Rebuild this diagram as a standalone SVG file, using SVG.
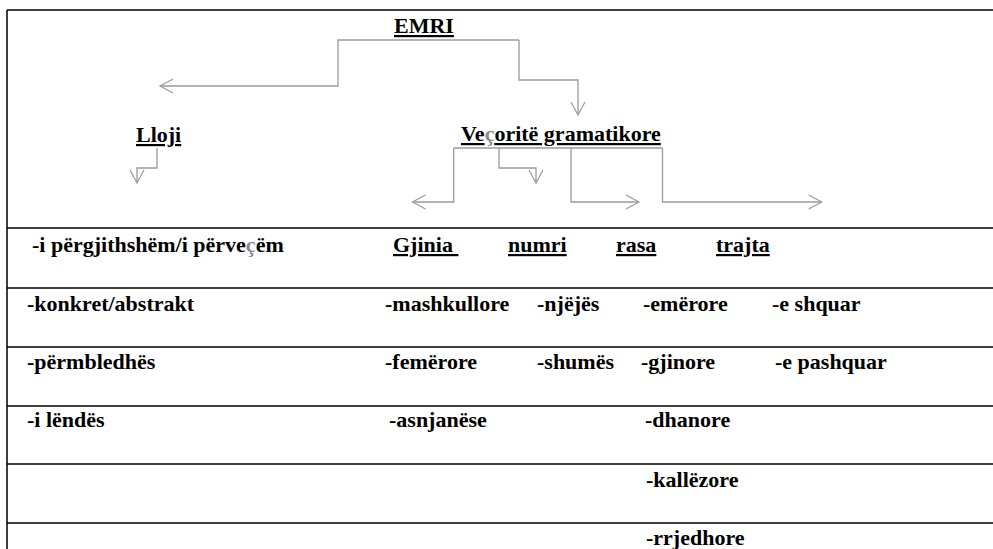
<svg xmlns="http://www.w3.org/2000/svg" width="993" height="549" viewBox="0 0 993 549">
<style>
text{font-family:'Liberation Serif','Times New Roman',serif;font-weight:bold;font-size:22px;fill:#000}
.u{text-decoration:underline}
.g{fill:#8a8a8a}
.rule{stroke:#000;stroke-width:1.5;fill:none}
.con{stroke:#9a9a9a;stroke-width:1.3;fill:none}
</style>
<defs>
<marker id="ah" viewBox="0 0 16 16" markerUnits="userSpaceOnUse" markerWidth="16" markerHeight="16" refX="14" refY="8" orient="auto">
<path d="M1,1 L14,8 L1,15" fill="none" stroke="#9a9a9a" stroke-width="1.2"/>
</marker>
</defs>
<rect width="993" height="549" fill="#fff"/>
<g id="frame">
<path class="rule" d="M7,10 H993 M7,10 V549" stroke-width="2"/>
<path class="rule" d="M7,228 H993 M7,288 H993 M7,347 H993 M7,406 H993 M7,464 H993 M7,523 H993"/>
</g>
<g id="connectors">
<path class="con" d="M519,40 H338 V86 H160" marker-end="url(#ah)"/>
<path class="con" d="M519,40 V80 H578 V115" marker-end="url(#ah)"/>
<path class="con" d="M157,148 V168 H137 V183" marker-end="url(#ah)"/>
<path class="con" d="M453.7,148 H662.5"/>
<path class="con" d="M453.7,148 V202 H412.5" marker-end="url(#ah)"/>
<path class="con" d="M499,148 V168 H536 V183" marker-end="url(#ah)"/>
<path class="con" d="M571,148 V202 H639" marker-end="url(#ah)"/>
<path class="con" d="M662.5,148 V202 H821.7" marker-end="url(#ah)"/>
</g>
<g id="emri"><text class="u" x="394" y="33">EMRI</text></g>
<g id="lloji"><text class="u" x="136" y="142">Lloji</text></g>
<g id="vecorite"><text class="u" x="461" y="141">Ve<tspan class="g u">ç</tspan>oritë gramatikore</text></g>
<g id="col-lloji">
<text x="32" y="252">-i përgjithshëm/i përve<tspan class="g">ç</tspan>ëm</text>
<text x="27" y="311">-konkret/abstrakt</text>
<text x="27" y="369">-përmbledhës</text>
<text x="27" y="427">-i lëndës</text>
</g>
<g id="col-gjinia">
<text class="u" x="393" y="252" xml:space="preserve">Gjinia </text>
<text x="385" y="311">-mashkullore</text>
<text x="385" y="369">-femërore</text>
<text x="389" y="427">-asnjanëse</text>
</g>
<g id="col-numri">
<text class="u" x="508" y="252">numri</text>
<text x="537" y="311">-njëjës</text>
<text x="537" y="369">-shumës</text>
</g>
<g id="col-rasa">
<text class="u" x="616" y="252">rasa</text>
<text x="643" y="311">-emërore</text>
<text x="641" y="369">-gjinore</text>
<text x="645" y="427">-dhanore</text>
<text x="646" y="487">-kallëzore</text>
<text x="646" y="545">-rrjedhore</text>
</g>
<g id="col-trajta">
<text class="u" x="716" y="252">trajta</text>
<text x="772" y="311">-e shquar</text>
<text x="775" y="369">-e pashquar</text>
</g>
</svg>
